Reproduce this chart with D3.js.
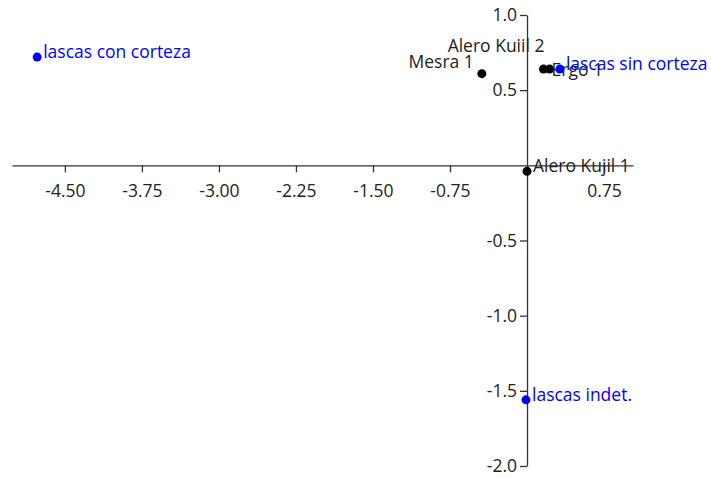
<!DOCTYPE html>
<html>
<head>
<meta charset="utf-8">
<script src="https://cdn.jsdelivr.net/npm/d3@7"></script>
<style>
  html, body { margin: 0; padding: 0; background: #fff; }
  svg text { font-family: "Open Sans", "Noto Sans", sans-serif; }
</style>
</head>
<body>
<div id="chart"></div>
<script>
// biplot — sites (black) and variables (blue) on two crossing axes

// sites
const siteNames = ['Mesra 1', 'Alero Kuiil 2', 'Ergo 1', 'Alero Kujil 1'];
const siteX = [-0.44, 0.16, 0.22, 0.00];
const siteY = [0.61, 0.64, 0.64, -0.04];

// variables
const varNames = ['lascas con corteza', 'lascas sin corteza', 'lascas indet.'];
const varX = [-4.77, 0.32, -0.01];
const varY = [0.72, 0.64, -1.56];

// tick labels
const xTicks = [-4.5, -3.75, -3.0, -2.25, -1.5, -0.75, 0.75];
const yTicks = [-2.0, -1.5, -1.0, -0.5, 0.5, 1.0];

const CONFIG = {
  WIDTH: 711,
  HEIGHT: 478,
  X_DOMAIN: [-5.015, 1.032],
  Y_DOMAIN: [-2, 1],
  X_RANGE: [12, 633],
  Y_RANGE: [466, 15],
  DOT_R: 4.5,
  SITE_COLOR: '#000',
  VAR_COLOR: '#0000ff',
  TEXT_COLOR: '#222',
  AXIS_COLOR: '#333',
  FONT_SIZE: 17.5,
};

// label placement per name (dx, dy from the dot, text-anchor)
const labelPlace = {
  'Mesra 1': [-8, -6, 'end'],
  'Alero Kuiil 2': [1, -17, 'end'],
  'Ergo 1': [2, 7, 'start'],
};
const defaultPlace = [6, 1, 'start'];

const sites = siteNames.map((name, i) => ({ name, x: siteX[i], y: siteY[i] }));
const vars = varNames.map((name, i) => ({ name, x: varX[i], y: varY[i] }));

// plain hyphen for negatives, like the original
const fmt = p => v => d3.format(p)(v).replace('\u2212', '-');

const svg = d3.select('#chart')
  .append('svg')
  .attr('width', CONFIG.WIDTH)
  .attr('height', CONFIG.HEIGHT);

const x = d3.scaleLinear().domain(CONFIG.X_DOMAIN).range(CONFIG.X_RANGE);
const y = d3.scaleLinear().domain(CONFIG.Y_DOMAIN).range(CONFIG.Y_RANGE);

// axes cross at the origin
const xAxis = svg.append('g')
  .attr('transform', `translate(0,${y(0)})`)
  .call(d3.axisBottom(x)
    .tickValues(xTicks)
    .tickFormat(fmt('.2f'))
    .tickSize(7)
    .tickSizeOuter(0)
    .tickPadding(12));

const yAxis = svg.append('g')
  .attr('transform', `translate(${x(0)},0)`)
  .call(d3.axisLeft(y)
    .tickValues(yTicks)
    .tickFormat(fmt('.1f'))
    .tickSize(7)
    .tickSizeOuter(0)
    .tickPadding(3));

[xAxis, yAxis].forEach(g => {
  g.selectAll('path, line').attr('stroke', CONFIG.AXIS_COLOR).attr('stroke-width', 1.3);
  g.selectAll('text')
    .attr('fill', CONFIG.TEXT_COLOR)
    .style('font-size', CONFIG.FONT_SIZE + 'px')
    .style('font-family', '"Open Sans", "Noto Sans", sans-serif');
});

// draws dots + labels for one group
function drawGroup(data, color, textColor) {
  const g = svg.append('g');
  g.selectAll('circle')
    .data(data)
    .join('circle')
    .attr('cx', d => x(d.x))
    .attr('cy', d => y(d.y))
    .attr('r', CONFIG.DOT_R)
    .attr('fill', color);

  g.selectAll('text')
    .data(data)
    .join('text')
    .attr('x', d => x(d.x) + (labelPlace[d.name] || defaultPlace)[0])
    .attr('y', d => y(d.y) + (labelPlace[d.name] || defaultPlace)[1])
    .attr('text-anchor', d => (labelPlace[d.name] || defaultPlace)[2])
    .attr('fill', textColor)
    .style('font-size', CONFIG.FONT_SIZE + 'px')
    .text(d => d.name);
}

drawGroup(sites, CONFIG.SITE_COLOR, CONFIG.TEXT_COLOR);
drawGroup(vars, CONFIG.VAR_COLOR, CONFIG.VAR_COLOR);
</script>
</body>
</html>
